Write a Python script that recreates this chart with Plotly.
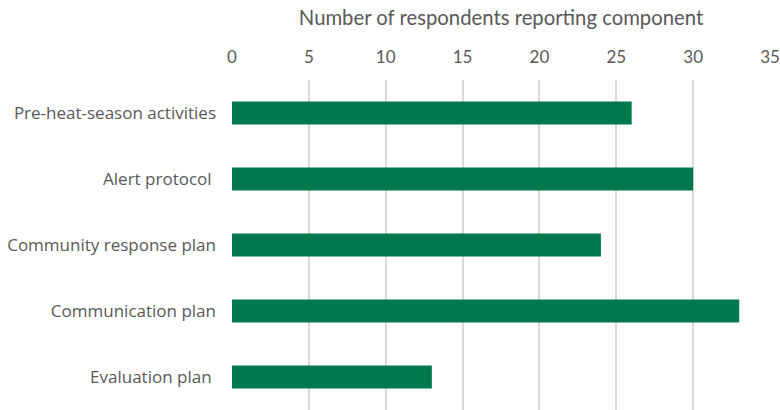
import plotly.graph_objects as go

categories = ["Pre-heat-season activities", "Alert protocol ", "Community response plan",
              "Communication plan", "Evaluation plan "]
values = [26, 30, 24, 33, 13]
x_ticks = [0, 5, 10, 15, 20, 25, 30, 35]

fig = go.Figure(go.Bar(
    x=values, y=categories, orientation="h",
    marker=dict(color="#00784E", line=dict(width=0)),
    width=0.35,
))

fig.update_layout(
    width=780, height=410,
    margin=dict(l=232, r=10, t=80, b=0, autoexpand=False),
    paper_bgcolor="white", plot_bgcolor="white",
    font=dict(family="Open Sans, sans-serif", size=15, color="#595959"),
    showlegend=False,
)
fig.update_xaxes(
    side="top", range=[0, 35], tickvals=x_ticks, automargin=False,
    showgrid=True, gridcolor="#D9D9D9", gridwidth=1.5,
    zeroline=False, showline=False, ticks="",
    ticklabelstandoff=13,
    title=dict(text="Number of respondents reporting component", standoff=14,
               font=dict(family="Lato, sans-serif", size=20.3, color="#595959")),
    tickfont=dict(family="Lato, sans-serif", size=17, color="#595959"),
)
fig.update_yaxes(
    categoryorder="array", categoryarray=categories[::-1], automargin=False,
    showgrid=False, showline=False, ticks="", ticklabelstandoff=15,
    tickfont=dict(family="Open Sans, sans-serif", size=17, color="#595959"),
)

fig.write_html(
    "out.html",
    config={"displayModeBar": False},
    post_script="document.body.style.margin='0';document.body.style.overflow='hidden';",
)
